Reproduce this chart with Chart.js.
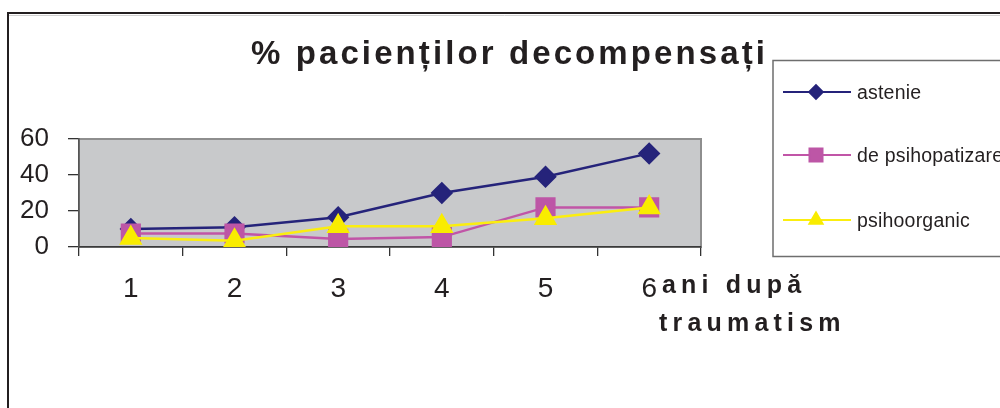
<!DOCTYPE html>
<html>
<head>
<meta charset="utf-8">
<script src="https://cdn.jsdelivr.net/npm/chart.js@4/dist/chart.umd.min.js"></script>
<style>
  html, body { margin: 0; padding: 0; background: #ffffff; }
  #wrap { width: 1000px; height: 408px; }
</style>
</head>
<body>
<div id="wrap"><canvas id="c" width="1000" height="408"></canvas></div>
<script>
// Years after trauma and the share of decompensated patients per syndrome (%)
const categories = ['1', '2', '3', '4', '5', '6'];
const astenie = [10, 11, 16.5, 30, 39, 52];
const psihopatizare = [7.5, 7.5, 4.5, 5.5, 22, 22];
const psihoorganic = [5, 3.5, 11.5, 11.5, 16, 22];
const yTicks = [0, 20, 40, 60];
const seriesNames = ['astenie', 'de psihopatizare', 'psihoorganic'];

const titleText = '% pacienților decompensați';
const axisTitleLines = ['ani după', 'traumatism'];

const FONT = '"Liberation Sans", Arial, sans-serif';
const INK = '#231f20';

// Frame, plot background, heading, axis caption and the boxed legend
const decor = {
  id: 'decor',
  beforeDraw(chart) {
    const ctx = chart.ctx;
    const a = chart.chartArea;
    ctx.save();
    ctx.fillStyle = '#ffffff';
    ctx.fillRect(0, 0, chart.width, chart.height);
    // outer frame
    ctx.strokeStyle = '#d0d0d0';
    ctx.lineWidth = 1;
    ctx.beginPath();
    ctx.moveTo(9, 15.5); ctx.lineTo(chart.width, 15.5);
    ctx.stroke();
    ctx.strokeStyle = INK;
    ctx.lineWidth = 2;
    ctx.beginPath();
    ctx.moveTo(8, chart.height); ctx.lineTo(8, 13); ctx.lineTo(chart.width, 13);
    ctx.stroke();
    // plot area
    ctx.fillStyle = '#c8c9cb';
    ctx.fillRect(a.left, a.top, a.right - a.left, a.bottom - a.top);
    ctx.strokeStyle = '#8e8e8e';
    ctx.lineWidth = 2;
    ctx.strokeRect(a.left, a.top, a.right - a.left, a.bottom - a.top);
    ctx.restore();
  },
  afterDraw(chart) {
    const ctx = chart.ctx;
    ctx.save();
    ctx.fillStyle = INK;
    ctx.textAlign = 'left';
    ctx.textBaseline = 'alphabetic';

    // heading
    ctx.font = 'bold 33px ' + FONT;
    ctx.letterSpacing = '3.1px';
    ctx.fillText(titleText, 251, 64);

    // category axis caption
    ctx.font = 'bold 25px ' + FONT;
    ctx.letterSpacing = '5.2px';
    ctx.fillText(axisTitleLines[0], 662, 293);
    ctx.fillText(axisTitleLines[1], 659, 331);
    ctx.letterSpacing = '0px';

    // legend box
    ctx.fillStyle = '#ffffff';
    ctx.fillRect(773, 60.5, 240, 196);
    ctx.strokeStyle = '#6e6e6e';
    ctx.lineWidth = 1.5;
    ctx.strokeRect(773, 60.5, 240, 196);

    const rows = [92, 155, 220];
    const legendRadius = [6.8, 9.2, 7.6];
    chart.data.datasets.forEach((ds, i) => {
      const y = rows[i];
      ctx.strokeStyle = ds.borderColor;
      ctx.lineWidth = 2;
      ctx.beginPath();
      ctx.moveTo(783, y); ctx.lineTo(851, y);
      ctx.stroke();
      ctx.fillStyle = ds.pointBackgroundColor;
      ctx.strokeStyle = ds.pointBorderColor;
      Chart.helpers.drawPoint(ctx, {
        pointStyle: ds.pointStyle,
        radius: legendRadius[i],
        rotation: 0,
        borderWidth: 1
      }, 816, y);
      ctx.fillStyle = INK;
      ctx.font = '19.5px ' + FONT;
      ctx.letterSpacing = '0.2px';
      ctx.fillText(ds.label, 857, y + 6.5);
    });
    ctx.restore();
  }
};

const data = {
  labels: categories,
  datasets: [
    {
      label: seriesNames[0],
      data: astenie,
      borderColor: '#25237a',
      pointBackgroundColor: '#25237a',
      pointBorderColor: '#25237a',
      pointStyle: 'rectRot',
      pointRadius: 9.5,
      borderWidth: 2.5,
      order: 3
    },
    {
      label: seriesNames[1],
      data: psihopatizare,
      borderColor: '#c155a7',
      pointBackgroundColor: '#bd56a6',
      pointBorderColor: '#bd56a6',
      pointStyle: 'rect',
      pointRadius: 12.5,
      borderWidth: 2.5,
      order: 2
    },
    {
      label: seriesNames[2],
      data: psihoorganic,
      borderColor: '#fbee0f',
      pointBackgroundColor: '#f9ec00',
      pointBorderColor: '#f9ec00',
      pointStyle: 'triangle',
      pointRadius: 11,
      borderWidth: 2.5,
      order: 1
    }
  ]
};

new Chart(document.getElementById('c'), {
  type: 'line',
  data,
  plugins: [decor],
  options: {
    responsive: false,
    devicePixelRatio: 1,
    animation: false,
    layout: { padding: { left: 8, top: 139, right: 299, bottom: 101 } },
    plugins: {
      legend: { display: false },
      title: { display: false },
      tooltip: { enabled: false }
    },
    elements: {
      line: { tension: 0, fill: false },
      point: { borderWidth: 1, hoverRadius: 0 }
    },
    scales: {
      x: {
        type: 'category',
        offset: true,
        afterFit(scale) { scale.height = 60; },
        grid: {
          offset: true,
          drawOnChartArea: false,
          drawTicks: true,
          tickLength: 9,
          color: '#333333',
          lineWidth: 1.3
        },
        border: { display: true, color: '#3a3a3a', width: 1.6 },
        ticks: {
          color: INK,
          font: { family: FONT, size: 28 },
          padding: 16,
          maxRotation: 0,
          autoSkip: false
        }
      },
      y: {
        min: yTicks[0],
        max: yTicks[yTicks.length - 1],
        afterFit(scale) { scale.width = 71; },
        afterBuildTicks(scale) { scale.ticks = yTicks.map(v => ({ value: v })); },
        grid: {
          drawOnChartArea: false,
          drawTicks: true,
          tickLength: 11,
          color: '#333333',
          lineWidth: 1.3
        },
        border: { display: true, color: '#555555', width: 1.6 },
        ticks: {
          color: INK,
          font: { family: FONT, size: 26 },
          padding: 19
        }
      }
    }
  }
});
</script>
</body>
</html>
